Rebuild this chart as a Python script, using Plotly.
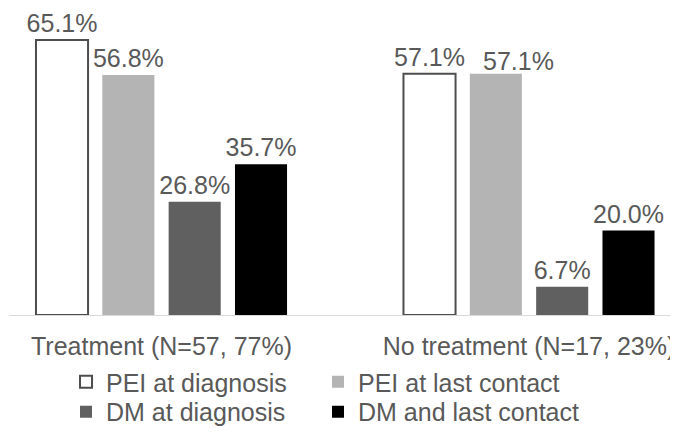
import plotly.graph_objects as go

categories = ["Treatment (N=57, 77%)", "No treatment (N=17, 23%)"]
series_names = ["PEI at diagnosis", "PEI at last contact", "DM at diagnosis", "DM and last contact"]
pei_diag = [65.1, 57.1]
pei_last = [56.8, 57.1]
dm_diag = [26.8, 6.7]
dm_last = [35.7, 20.0]
series_values = [pei_diag, pei_last, dm_diag, dm_last]

fills = ["#ffffff", "#b4b4b4", "#606060", "#000000"]
lines = ["#4d4d4d", "#b4b4b4", "#606060", "#000000"]
line_w = [2, 0, 0, 0]
legend_ids = ["legend", "legend2", "legend3", "legend4"]

FONT = "Liberation Sans, Arial, sans-serif"
TXT = "#595959"

fig = go.Figure()
for si, (name, vals, fc, lc, lw, lg) in enumerate(zip(series_names, series_values, fills, lines, line_w, legend_ids)):
    labels = [f"{v:.1f}%" for v in vals]
    if si == 1:
        labels[1] = ""  # placed as a nudged annotation below (as in the original)
    fig.add_trace(go.Bar(
        x=categories, y=vals, name=name, legend=lg,
        marker=dict(color=fc, line=dict(color=lc, width=lw)),
        text=labels, textposition="outside",
        constraintext="none",
        textfont=dict(family=FONT, size=25, color=TXT),
        cliponaxis=False,
    ))

# nudged label for "PEI at last contact" in the second group
fig.add_annotation(
    x=categories[1], y=pei_last[1], text=f"{pei_last[1]:.1f}%",
    showarrow=False, xanchor="center", yanchor="bottom",
    xshift=-11, yshift=-3,
    font=dict(family=FONT, size=25, color=TXT),
)

leg_common = dict(
    orientation="h", xref="container", yref="container",
    xanchor="left", yanchor="top",
    font=dict(family=FONT, size=25, color=TXT),
    bgcolor="rgba(0,0,0,0)",
)
col_x = [0.0866, 0.4627]
row_y = [0.1818, 0.1119]

fig.update_layout(
    width=670, height=429,
    margin=dict(l=1, r=0, t=5, b=122, autoexpand=False),
    plot_bgcolor="white", paper_bgcolor="white",
    barmode="group", bargap=0.278, bargroupgap=0.215,
    font=dict(family=FONT, color=TXT, size=24),
    showlegend=True,
    legend=dict(leg_common, x=col_x[0], y=row_y[0]),
    legend2=dict(leg_common, x=col_x[1], y=row_y[0]),
    legend3=dict(leg_common, x=col_x[0], y=row_y[1]),
    legend4=dict(leg_common, x=col_x[1], y=row_y[1]),
)
fig.update_xaxes(
    type="category", range=[-0.415, 1.4054], automargin=False,
    showline=True, linecolor="#d9d9d9", linewidth=1,
    ticks="", ticklabelstandoff=9,
    tickfont=dict(family=FONT, size=25, color=TXT),
    showgrid=False, zeroline=False,
)
fig.update_yaxes(range=[0, 71.5], visible=False, showgrid=False, zeroline=False, automargin=False)

fig.write_html("out.html")
